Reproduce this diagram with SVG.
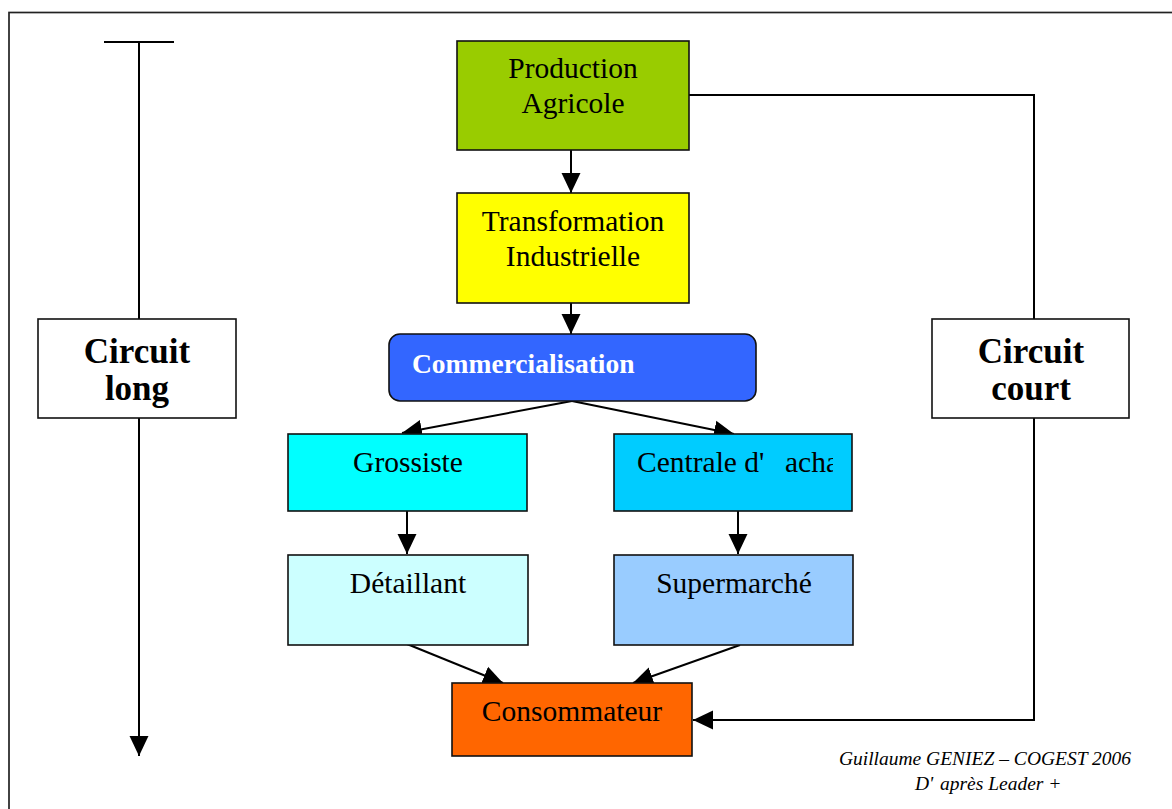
<svg xmlns="http://www.w3.org/2000/svg" width="1172" height="809" viewBox="0 0 1172 809">
  <style>
    .box { stroke: #111; stroke-width: 1.6; }
    .lbl { font-family: "Liberation Serif", "Times New Roman", serif; font-size: 29.5px; fill: #000; text-anchor: middle; }
    .big { font-family: "Liberation Serif", "Times New Roman", serif; font-size: 35px; font-weight: bold; fill: #000; text-anchor: middle; }
    .conn { fill: none; stroke: #000; stroke-width: 2; }
    .note { font-family: "Liberation Serif", "Times New Roman", serif; font-size: 19.5px; font-style: italic; fill: #000; }
  </style>
  <defs>
    <marker id="arrow" markerUnits="userSpaceOnUse" markerWidth="20" markerHeight="20" viewBox="0 0 19 18" refX="19" refY="9" orient="auto">
      <path d="M0,0 L19,9 L0,18 Z" fill="#000"/>
    </marker>
    <clipPath id="clipCentrale">
      <rect x="615" y="435" width="218" height="75"/>
    </clipPath>
  </defs>

  <rect width="1172" height="809" fill="#fff"/>

  <!-- outer frame (open to the right and bottom) -->
  <rect x="9" y="12.5" width="1200" height="820" fill="none" stroke="#222" stroke-width="1.7"/>

  <!-- connectors -->
  <g id="connectors">
    <!-- long circuit timeline -->
    <line x1="104" y1="42" x2="174" y2="42" class="conn"/>
    <line x1="139" y1="42" x2="139" y2="756" class="conn" marker-end="url(#arrow)"/>
    <!-- main chain -->
    <line x1="571" y1="150" x2="571" y2="193" class="conn" marker-end="url(#arrow)"/>
    <line x1="571" y1="303" x2="571" y2="334" class="conn" marker-end="url(#arrow)"/>
    <line x1="572" y1="401" x2="402" y2="433" class="conn" marker-end="url(#arrow)"/>
    <line x1="572" y1="401" x2="734" y2="434" class="conn" marker-end="url(#arrow)"/>
    <line x1="407" y1="511" x2="407" y2="554" class="conn" marker-end="url(#arrow)"/>
    <line x1="738" y1="511" x2="738" y2="554" class="conn" marker-end="url(#arrow)"/>
    <line x1="407" y1="644" x2="503" y2="683" class="conn" marker-end="url(#arrow)"/>
    <line x1="740" y1="645" x2="633" y2="683" class="conn" marker-end="url(#arrow)"/>
    <!-- short circuit -->
    <polyline points="689,95 1034,95 1034,720 693,720" class="conn" marker-end="url(#arrow)"/>
  </g>

  <g id="circuit-long">
    <rect x="38" y="319" width="198" height="99" fill="#fff" class="box"/>
    <text x="137" y="363" class="big">Circuit</text>
    <text x="137" y="400" class="big">long</text>
  </g>

  <g id="circuit-court">
    <rect x="932" y="319" width="197" height="99" fill="#fff" class="box"/>
    <text x="1031" y="363" class="big">Circuit</text>
    <text x="1031" y="400" class="big">court</text>
  </g>

  <g id="production">
    <rect x="457" y="41" width="232" height="109" fill="#99CC00" class="box"/>
    <text x="573" y="78" class="lbl">Production</text>
    <text x="573" y="113" class="lbl">Agricole</text>
  </g>

  <g id="transformation">
    <rect x="457" y="193" width="232" height="110" fill="#FFFF00" class="box"/>
    <text x="573" y="231" class="lbl">Transformation</text>
    <text x="573" y="266" class="lbl">Industrielle</text>
  </g>

  <g id="commercialisation">
    <rect x="389" y="334" width="367" height="67" rx="11" fill="#3366FF" class="box"/>
    <text x="412" y="373" font-family="Liberation Serif, Times New Roman, serif" font-size="27.5" font-weight="bold" fill="#fff">Commercialisation</text>
  </g>

  <g id="grossiste">
    <rect x="288" y="434" width="239" height="77" fill="#00FFFF" class="box"/>
    <text x="408" y="472" class="lbl">Grossiste</text>
  </g>

  <g id="centrale">
    <rect x="614" y="434" width="238" height="77" fill="#00CCFF" class="box"/>
    <text y="472" font-family="Liberation Serif, Times New Roman, serif" font-size="29.5" fill="#000" clip-path="url(#clipCentrale)"><tspan x="637">Centrale d'</tspan><tspan x="785">acha</tspan></text>
  </g>

  <g id="detaillant">
    <rect x="288" y="555" width="240" height="90" fill="#CCFFFF" class="box"/>
    <text x="408" y="593" class="lbl">Détaillant</text>
  </g>

  <g id="supermarche">
    <rect x="614" y="555" width="239" height="90" fill="#99CCFF" class="box"/>
    <text x="734" y="593" class="lbl">Supermarché</text>
  </g>

  <g id="consommateur">
    <rect x="452" y="683" width="240" height="73" fill="#FF6600" class="box"/>
    <text x="572" y="721" class="lbl">Consommateur</text>
  </g>

  <g id="credits">
    <text x="985" y="765" class="note" text-anchor="middle">Guillaume GENIEZ – COGEST 2006</text>
    <text y="790" class="note"><tspan x="915">D'</tspan><tspan x="940">après Leader +</tspan></text>
  </g>
</svg>
